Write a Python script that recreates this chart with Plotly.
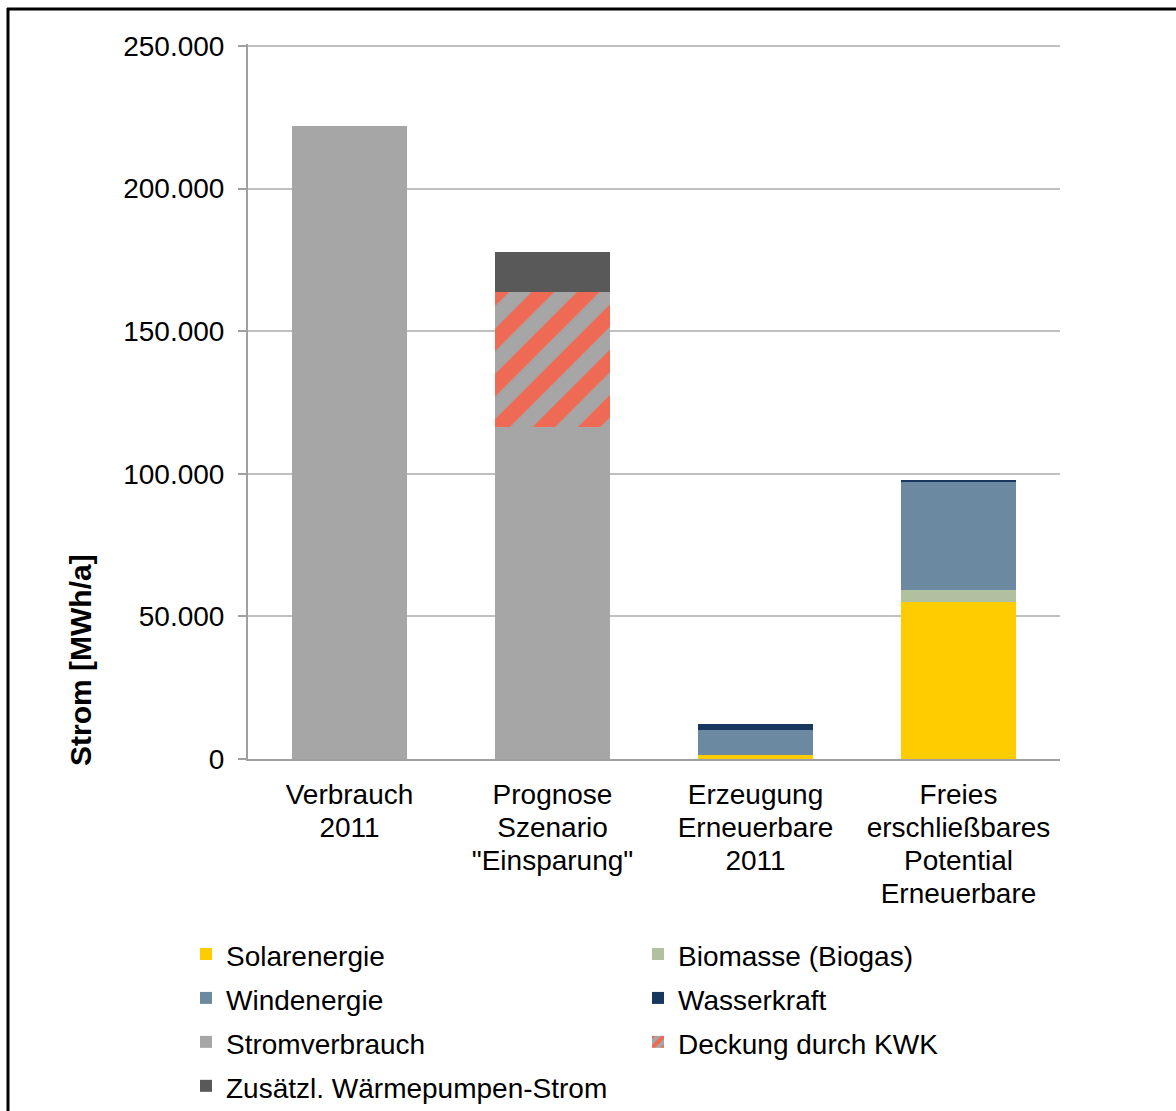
import plotly.graph_objects as go

# Categories (x axis) and stacked series in MWh/a
category_lines = [
    ["Verbrauch", "2011"],
    ["Prognose", "Szenario", "\"Einsparung\""],
    ["Erzeugung", "Erneuerbare", "2011"],
    ["Freies", "erschließbares", "Potential", "Erneuerbare"],
]

solar = [0, 0, 1500, 55200]
biomasse = [0, 0, 0, 4100]
wind = [0, 0, 8700, 38000]
wasser = [0, 0, 2100, 600]
stromverbrauch = [222000, 116400, 0, 0]
kwk = [0, 47350, 0, 0]
waermepumpen = [0, 14000, 0, 0]

y_ticks = [0, 50000, 100000, 150000, 200000, 250000]

FONT = "Liberation Sans, Arial, sans-serif"
GRAY = "#A6A6A6"
TEXT_PX = 28


def sized(text, px=TEXT_PX):
    return f"<span style='font-size:{px}px'>{text}</span>"


# category labels: glyphs at TEXT_PX, line pitch set by the tick font size
categories = ["<br>".join(sized(s) for s in lines) for lines in category_lines]

series = [
    ("Solarenergie", solar, "#FFCC00", None),
    ("Biomasse (Biogas)", biomasse, "#B1C09E", None),
    ("Windenergie", wind, "#6C89A2", None),
    ("Wasserkraft", wasser, "#17375E", None),
    ("Stromverbrauch", stromverbrauch, GRAY, None),
    ("Deckung durch KWK", kwk, GRAY,
     dict(shape="/", fgcolor="#EE6A55", bgcolor=GRAY, fgopacity=1,
          size=32, solidity=0.5, fillmode="replace")),
    ("Zusätzl. Wärmepumpen-Strom", waermepumpen, "#595959", None),
]

fig = go.Figure()
for name, values, color, pattern in series:
    marker = dict(color=color, line=dict(width=0))
    if pattern:
        marker["pattern"] = pattern
    fig.add_trace(go.Bar(name=sized(name), x=categories, y=values, marker=marker))

W, H = 1176, 1111
L, R, T, B = 248, 116, 44, 352
pw, ph = W - L - R, H - T - B

# top of the value axis sits 2px above the 250.000 grid line so that line is kept
y_top = 250000 * ph / (ph - 2)


def px_x(x):
    return (x - L) / pw


def px_y(y):
    return (H - B - y) / ph


fig.update_layout(
    width=W,
    height=H,
    margin=dict(l=L, r=R, t=T, b=B, pad=0, autoexpand=False),
    barmode="stack",
    bargap=0.43,
    separators=",.",
    paper_bgcolor="white",
    plot_bgcolor="white",
    font=dict(family=FONT, size=TEXT_PX, color="black"),
    showlegend=True,
    legend=dict(
        orientation="h",
        x=px_x(186),
        xanchor="left",
        y=px_y(927),
        yanchor="top",
        entrywidth=407,
        traceorder="normal",
        # row pitch comes from this size; the entries themselves are drawn at TEXT_PX
        font=dict(family=FONT, size=31.5, color="black"),
        itemwidth=30,
        bgcolor="rgba(0,0,0,0)",
    ),
    xaxis=dict(
        showgrid=False,
        showline=True,
        linecolor="#A0A0A0",
        linewidth=2,
        ticks="",
        ticklabelstandoff=12,
        tickfont=dict(family=FONT, size=25.5, color="black"),
        fixedrange=True,
    ),
    yaxis=dict(
        range=[0, y_top],
        tickvals=y_ticks,
        tickformat=",.0f",
        showgrid=True,
        gridcolor="#C0C0C0",
        gridwidth=2,
        showline=True,
        linecolor="#A0A0A0",
        linewidth=2,
        ticks="outside",
        ticklen=8,
        tickwidth=2,
        tickcolor="#A0A0A0",
        ticklabelstandoff=8,
        tickfont=dict(family=FONT, size=TEXT_PX, color="black"),
        zeroline=False,
        fixedrange=True,
    ),
    annotations=[
        dict(
            text="<b>Strom [MWh/a]</b>",
            textangle=-90,
            xref="paper",
            yref="paper",
            x=px_x(80),
            y=px_y(660),
            xanchor="center",
            yanchor="middle",
            showarrow=False,
            font=dict(family=FONT, size=30, color="black"),
        )
    ],
    shapes=[
        # outer frame (top and left edges)
        dict(type="line", xref="paper", yref="paper",
             x0=px_x(7), x1=px_x(1180), y0=px_y(9), y1=px_y(9),
             line=dict(color="black", width=3)),
        dict(type="line", xref="paper", yref="paper",
             x0=px_x(8), x1=px_x(8), y0=px_y(8), y1=px_y(1115),
             line=dict(color="black", width=3)),
    ],
)

fig.write_html("out.html")
